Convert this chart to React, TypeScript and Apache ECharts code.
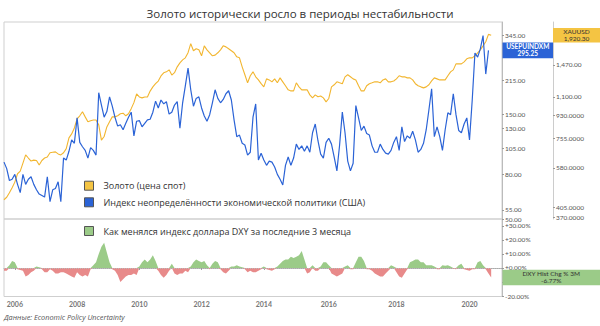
import React, { useEffect, useRef } from 'react';
import * as echarts from 'echarts';

const TITLE = 'Золото исторически росло в периоды нестабильности';
const SOURCE = 'Данные: Economic Policy Uncertainty';
const GOLD_NAME = 'Золото (цена спот)';
const EPU_NAME = 'Индекс неопределённости экономической политики (США)';
const DXY_NAME = 'Как менялся индекс доллара DXY за последние 3 месяца';
const DXY_NEG_NAME = 'DXY negative';

// x axis: readings taken along the reference's (index-based) time axis
const readingCount = 185;
const yearLabels = ['2006', '2008', '2010', '2012', '2014', '2016', '2018', '2020'];
const yearLabelReading = [4, 27, 50, 73, 96, 120, 145, 172];

// Gold spot, USD
const gold = [
  435, 445, 463, 485, 510, 550, 563, 605, 652, 634,
  617, 622, 620, 595, 620, 634, 640, 665, 668, 670,
  658, 652, 665, 690, 760, 788, 832, 903, 928, 962,
  919, 879, 888, 894, 894, 855, 745, 770, 839, 879,
  919, 919, 928, 945, 950, 928, 945, 990, 1045, 1130,
  1100, 1091, 1100, 1100, 1160, 1205, 1240, 1270, 1330, 1368,
  1380, 1405, 1340, 1370, 1444, 1497, 1537, 1566, 1640, 1780,
  1670, 1700, 1683, 1595, 1745, 1683, 1639, 1595, 1605, 1639,
  1683, 1745, 1729, 1700, 1670, 1639, 1580, 1566, 1444, 1344,
  1250, 1332, 1380, 1319, 1283, 1240, 1205, 1295, 1283, 1261,
  1295, 1250, 1307, 1261, 1217, 1173, 1162, 1162, 1250, 1205,
  1173, 1173, 1173, 1121, 1091, 1121, 1102, 1110, 1091, 1052,
  1085, 1205, 1228, 1261, 1250, 1240, 1319, 1344, 1320, 1295,
  1283, 1217, 1162, 1162, 1217, 1240, 1250, 1261, 1261, 1250,
  1283, 1295, 1261, 1261, 1270, 1295, 1332, 1319, 1319, 1307,
  1307, 1283, 1240, 1217, 1205, 1194, 1205, 1228, 1272, 1307,
  1295, 1283, 1283, 1283, 1332, 1380, 1405, 1483, 1483, 1483,
  1510, 1552, 1566, 1566, 1595, 1639, 1683, 1745, 1810, 1935, 1920.3,
];

// US Economic Policy Uncertainty index
const epu = [
  91, 85, 75, 76, 80, 72, 66, 80, 72, 76,
  78, 72, 68, 65, 64, 63, 78, 60, 68, 69,
  74, 60, 95, 93, 102, 115, 111, 145, 112, 107,
  103, 95, 106, 103, 98, 189, 166, 146, 155, 181,
  164, 146, 133, 135, 128, 137, 146, 154, 120, 140,
  141, 132, 137, 142, 143, 154, 173, 161, 175, 168,
  172, 151, 154, 166, 172, 130, 170, 203, 245, 195,
  164, 178, 181, 161, 148, 140, 150, 170, 195, 178,
  170, 176, 187, 193, 175, 142, 119, 121, 111, 109,
  98, 101, 146, 168, 93, 100, 93, 88, 92, 91,
  86.5, 80, 76, 71.5, 88, 96, 88, 95, 110, 104,
  108, 102, 108, 101, 124, 136, 114, 99, 95, 112,
  117, 110, 96, 83, 109, 154, 124, 92, 83, 90,
  165, 145, 127, 133, 123, 121, 108, 101, 101, 110,
  104, 100, 99, 103, 112, 119, 103, 132, 113, 120,
  117, 126, 115, 101, 104, 111, 128, 158, 197, 119,
  132, 119, 103, 128, 153, 150, 187, 150, 127, 124,
  136, 145, 115, 175, 287, 275, 300, 345, 230, 295.25,
];

// DXY change over 3 months, %
const dxy = [
  -2, -2, 2, 5, 4, -1, -1.5, -2, -6, -5,
  -3, -2, 1, 0.5, -1, -3, -3, -1, -2, -4,
  -4, -3, -3, -4, -5, -6, -7, -3, -5, -6,
  -5, -6, -1, 2, 4, 10, 15, 18, 11, 4,
  -1, -2, -5, -10, -8, -6, -5, -5, -4, -5,
  1, 4, 6, 4, 6, 9, 5, -2, -5, -7,
  -5, -2, 3, -4, -5, -4, -4, -2, -3, 1,
  4, 6, 5, 4, 5, 2, -1, 3, 5, 4,
  -1, -3, -4, -2, 1, 1, 2, 1, 0.5, -1,
  -3, -2, -3, -3, -2, -1, 1, -1, -1.5, -2,
  -1, 1, 3, 5, 6, 6, 8, 7, 8, 9,
  12, 6, -4, -3, 2, -2, -2, 1, 4, 4,
  2, -4, -5, -6, -5, -4, 1, 2, -1, -1,
  4, 8, 8, 5, -1, -1, -2, -4, -5, -6,
  -6, -4, -2, 2, 1, -3, -6, -7, -4, -1,
  4, 5, 6, 6, 4, 4, 2, 2, 2, 1,
  -1, -1, 2, 1.5, 2, 1, -0.5, -1, 2, 3,
  -1, -1.5, -2, -1, -1, 4, 5, 2, -1, -4, -6.77,
];

const epuTicks = [50, 55, 80, 105, 130, 150, 215, 345];
const goldTicks = [370, 405, 580, 755, 930, 1100, 1470];
const dxyTicks = [-20, -10, 0, 10, 20, 30];
const epuRange = [50, 398];
const goldRange = [365.6, 2164];
const dxyRange = [-20.3, 34.8];

const C_GOLD = '#F2B630';
const C_GOLD_FILL = '#F4C443';
const C_BLUE = '#2B63D6';
const C_GREEN = '#9BCB88';
const C_RED = '#E88A8A';

const categories = Array.from({ length: readingCount }, (_, i) => {
  const k = yearLabelReading.indexOf(i);
  return k >= 0 ? yearLabels[k] : `r${i}`;
});
const isYear = (index: number) => yearLabelReading.indexOf(index) >= 0;

const fmtGold = (v: number) =>
  v >= 1000
    ? v.toLocaleString('en-US', { minimumFractionDigits: 2, maximumFractionDigits: 2 })
    : v.toFixed(4);

const axisLabelBase = { fontSize: 6.5, color: '#555', fontFamily: 'Lato', margin: 3 };
const legendText = { fontSize: 9, lineHeight: 10, color: '#333', fontFamily: 'Open Sans', padding: [0, 0, 0, 5] };

const option: any = {
  animation: false,
  backgroundColor: '#fff',
  title: {
    text: TITLE,
    left: 'center',
    top: 2,
    textStyle: { fontSize: 11.5, fontWeight: 'normal', color: '#333', fontFamily: 'Open Sans' },
  },
  legend: [
    {
      data: [GOLD_NAME, EPU_NAME],
      orient: 'vertical',
      left: 84,
      top: 180.7,
      padding: 0,
      icon: 'rect',
      itemWidth: 9,
      itemHeight: 9,
      itemGap: 6.6,
      itemStyle: { borderColor: '#555', borderWidth: 1 },
      textStyle: legendText,
      selectedMode: false,
    },
    {
      data: [DXY_NAME],
      orient: 'vertical',
      left: 84,
      top: 226,
      padding: 0,
      icon: 'rect',
      itemWidth: 9,
      itemHeight: 9,
      itemStyle: { borderColor: '#555', borderWidth: 1 },
      textStyle: legendText,
      selectedMode: false,
    },
  ],
  grid: [
    { left: 4, top: 22, width: 498, height: 197, show: true, borderColor: '#cfcfcf', borderWidth: 1 },
    { left: 4, top: 219, width: 498, height: 77.5, show: true, borderColor: '#cfcfcf', borderWidth: 1 },
  ],
  xAxis: [
    { type: 'category', gridIndex: 0, data: categories, boundaryGap: false, show: false },
    {
      type: 'category',
      gridIndex: 1,
      data: categories,
      boundaryGap: false,
      axisLine: { show: true, lineStyle: { color: '#aaa' } },
      axisTick: { show: true, interval: (i: number) => isYear(i), length: 2, lineStyle: { color: '#999' } },
      axisLabel: {
        interval: (i: number) => isYear(i),
        formatter: (v: string) => (v.startsWith('r') ? '' : v),
        fontSize: 7,
        fontWeight: 'bold',
        color: '#777',
        fontFamily: 'Lato',
        margin: 4,
      },
      splitLine: { show: false },
    },
  ],
  yAxis: [
    {
      type: 'value',
      gridIndex: 0,
      position: 'right',
      min: Math.log(epuRange[0]),
      max: Math.log(epuRange[1]),
      axisLine: { show: true, lineStyle: { color: '#bbb' } },
      axisTick: { show: true, length: 2, customValues: epuTicks.map(Math.log), lineStyle: { color: '#999' } },
      axisLabel: { ...axisLabelBase, customValues: epuTicks.map(Math.log), formatter: (v: number) => Math.exp(v).toFixed(2) },
      splitLine: { show: false },
    },
    {
      type: 'value',
      gridIndex: 0,
      position: 'right',
      offset: 51,
      min: Math.log(goldRange[0]),
      max: Math.log(goldRange[1]),
      axisLine: { show: true, lineStyle: { color: '#ccc' } },
      axisTick: { show: true, length: 2, customValues: goldTicks.map(Math.log), lineStyle: { color: '#999' } },
      axisLabel: { ...axisLabelBase, customValues: goldTicks.map(Math.log), formatter: (v: number) => fmtGold(Math.round(Math.exp(v))) },
      splitLine: { show: false },
    },
    {
      type: 'value',
      gridIndex: 1,
      position: 'right',
      min: dxyRange[0],
      max: dxyRange[1],
      axisLine: { show: true, lineStyle: { color: '#bbb' } },
      axisTick: { show: true, length: 2, customValues: dxyTicks, lineStyle: { color: '#999' } },
      axisLabel: {
        ...axisLabelBase,
        customValues: dxyTicks,
        formatter: (v: number) => (v >= 0 ? '+' : '') + v.toFixed(2) + '%',
      },
      splitLine: { show: false },
    },
  ],
  series: [
    {
      name: GOLD_NAME,
      type: 'line',
      xAxisIndex: 0,
      yAxisIndex: 1,
      data: gold.map((v) => Math.log(v)),
      showSymbol: false,
      lineStyle: { color: C_GOLD, width: 1.1 },
      itemStyle: { color: C_GOLD_FILL },
      color: C_GOLD_FILL,
      z: 2,
    },
    {
      name: EPU_NAME,
      type: 'line',
      xAxisIndex: 0,
      yAxisIndex: 0,
      data: epu.map((v) => Math.log(v)),
      showSymbol: false,
      lineStyle: { color: C_BLUE, width: 1.2 },
      itemStyle: { color: C_BLUE },
      color: C_BLUE,
      z: 3,
    },
    {
      name: DXY_NAME,
      type: 'line',
      xAxisIndex: 1,
      yAxisIndex: 2,
      data: dxy.map((v) => Math.max(v, 0)),
      showSymbol: false,
      lineStyle: { width: 0, color: C_GREEN },
      areaStyle: { color: C_GREEN, opacity: 1 },
      itemStyle: { color: C_GREEN },
      color: C_GREEN,
      markLine: {
        silent: true,
        symbol: 'none',
        label: { show: false },
        lineStyle: { type: 'dotted', color: '#bbb', width: 1 },
        data: [{ yAxis: 0 }],
      },
    },
    {
      name: DXY_NEG_NAME,
      type: 'line',
      xAxisIndex: 1,
      yAxisIndex: 2,
      data: dxy.map((v) => Math.min(v, 0)),
      showSymbol: false,
      lineStyle: { width: 0, color: C_RED },
      areaStyle: { color: C_RED, opacity: 1 },
      itemStyle: { color: C_RED },
      color: C_RED,
    },
  ],
};

export default function App() {
  const ref = useRef<HTMLDivElement>(null);
  useEffect(() => {
    document.body.style.margin = '0';
    const chart = echarts.init(ref.current!, null, { renderer: 'svg' });
    chart.setOption(option);

    const goldLast = gold[gold.length - 1];
    const epuLast = epu[epu.length - 1];
    const dxyLast = dxy[dxy.length - 1];
    const yG = chart.convertToPixel({ yAxisIndex: 1 }, Math.log(goldLast)) as number;
    const yE = chart.convertToPixel({ yAxisIndex: 0 }, Math.log(epuLast)) as number;
    const yD = chart.convertToPixel({ yAxisIndex: 2 }, dxyLast) as number;

    const box = (x: number, y: number, w: number, h: number, fill: string, text: string, color: string, bold: boolean) => ({
      type: 'group',
      z: 100,
      children: [
        { type: 'rect', z: 100, shape: { x, y: y - h / 2, width: w, height: h }, style: { fill } },
        {
          type: 'text',
          z: 101,
          x: x + w / 2,
          y,
          style: {
            text,
            fill: color,
            fontSize: 6.5,
            lineHeight: 7,
            fontFamily: 'Lato',
            fontWeight: bold ? 'bold' : 'normal',
            align: 'center',
            verticalAlign: 'middle',
          },
        },
      ],
    });

    chart.setOption({
      graphic: [
        box(553, yG, 47, 14.4, C_GOLD_FILL, `XAUUSD\n${fmtGold(goldLast)}`, '#333', false),
        box(502.5, yE, 50.5, 15.6, C_BLUE, `USEPUINDXM\n${epuLast.toFixed(2)}`, '#fff', true),
        box(502.5, yD, 97.5, 15.6, C_GREEN, `DXY Hist Chg % 3M\n${dxyLast.toFixed(2)}%`, '#333', false),
        {
          type: 'text',
          left: 4,
          top: 313,
          style: { text: SOURCE, fontSize: 7.3, fontStyle: 'italic', fill: '#555', fontFamily: 'Open Sans' },
        },
      ],
    });
    return () => chart.dispose();
  }, []);
  return <div ref={ref} style={{ width: 600, height: 326 }} />;
}
